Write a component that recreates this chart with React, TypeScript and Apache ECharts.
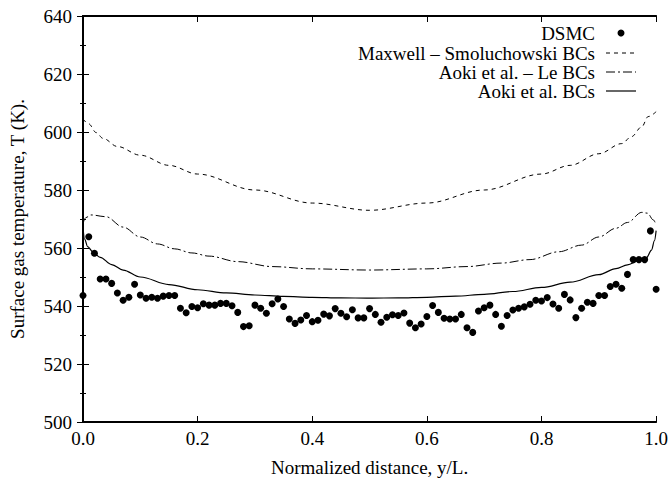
import React, { useEffect, useRef } from 'react';
import * as echarts from 'echarts';

// DSMC results (normalized distance, temperature K)
const dsmcX = [
  0.00, 0.01, 0.02, 0.03, 0.04, 0.05, 0.06, 0.07, 0.08, 0.09,
  0.10, 0.11, 0.12, 0.13, 0.14, 0.15, 0.16, 0.17, 0.18, 0.19,
  0.20, 0.21, 0.22, 0.23, 0.24, 0.25, 0.26, 0.27, 0.28, 0.29,
  0.30, 0.31, 0.32, 0.33, 0.34, 0.35, 0.36, 0.37, 0.38, 0.39,
  0.40, 0.41, 0.42, 0.43, 0.44, 0.45, 0.46, 0.47, 0.48, 0.49,
  0.50, 0.51, 0.52, 0.53, 0.54, 0.55, 0.56, 0.57, 0.58, 0.59,
  0.60, 0.61, 0.62, 0.63, 0.64, 0.65, 0.66, 0.67, 0.68, 0.69,
  0.70, 0.71, 0.72, 0.73, 0.74, 0.75, 0.76, 0.77, 0.78, 0.79,
  0.80, 0.81, 0.82, 0.83, 0.84, 0.85, 0.86, 0.87, 0.88, 0.89,
  0.90, 0.91, 0.92, 0.93, 0.94, 0.95, 0.96, 0.97, 0.98, 0.99,
  1.00,
];
const dsmcT = [
  543.6, 563.9, 558.2, 549.3, 549.3, 547.8, 544.5, 542.0, 543.0, 547.5,
  543.8, 542.7, 543.0, 542.7, 543.4, 543.6, 543.6, 539.2, 537.7, 539.8,
  539.4, 540.8, 540.3, 540.3, 540.9, 540.9, 540.1, 537.8, 532.9, 533.2,
  540.3, 539.2, 537.5, 540.8, 542.4, 539.8, 535.5, 534.0, 535.2, 536.7,
  534.6, 535.1, 537.2, 536.6, 539.1, 537.5, 536.3, 538.7, 535.9, 535.9,
  539.1, 537.1, 534.4, 536.1, 537.0, 536.7, 537.6, 534.1, 532.5, 533.8,
  536.4, 540.2, 537.8, 535.8, 535.5, 535.5, 537.1, 532.5, 530.9, 538.3,
  539.4, 540.3, 537.1, 533.0, 536.7, 538.6, 539.2, 539.7, 540.6, 542.0,
  541.7, 542.9, 540.7, 539.2, 544.0, 542.1, 536.0, 539.2, 541.3, 540.9,
  543.6, 543.6, 546.7, 547.5, 546.1, 550.9, 556.0, 556.0, 556.0, 565.9,
  545.8,
];

// Maxwell – Smoluchowski BCs
const maxwellX = [0, 0.01, 0.023, 0.035, 0.06, 0.1, 0.15, 0.2, 0.3, 0.4, 0.5, 0.6, 0.7, 0.8, 0.85, 0.9, 0.94, 0.957, 0.975, 0.986, 1.0];
const maxwellT = [604.5, 602.8, 599.8, 597.8, 595.0, 592.0, 588.5, 585.5, 580.0, 575.5, 573.0, 575.5, 580.0, 585.5, 588.5, 592.5, 596.0, 598.4, 601.8, 605.3, 607.0];

// Aoki et al. – Le BCs
const aokiLeX = [0, 0.005, 0.014, 0.04, 0.07, 0.1, 0.13, 0.16, 0.19, 0.22, 0.27, 0.33, 0.4, 0.5, 0.6, 0.67, 0.73, 0.78, 0.83, 0.87, 0.9, 0.93, 0.95, 0.975, 0.985, 0.995, 1.0];
const aokiLeT = [568.5, 570.5, 571.4, 570.8, 567.2, 563.8, 561.4, 559.7, 558.3, 557.2, 555.3, 553.6, 552.8, 552.4, 552.8, 553.6, 554.8, 556.0, 558.7, 561.0, 563.8, 566.8, 568.8, 572.3, 572.0, 569.7, 568.0];

// Aoki et al. BCs
const aokiX = [0, 0.003, 0.008, 0.017, 0.03, 0.05, 0.07, 0.1, 0.15, 0.2, 0.25, 0.3, 0.35, 0.4, 0.45, 0.5, 0.55, 0.6, 0.65, 0.7, 0.75, 0.8, 0.85, 0.9, 0.93, 0.95, 0.97, 0.983, 0.992, 0.997, 1.0];
const aokiT = [567.0, 563.0, 560.5, 558.7, 556.8, 554.3, 552.4, 550.0, 547.4, 545.6, 544.5, 543.8, 543.3, 543.0, 542.8, 542.7, 542.8, 543.0, 543.4, 544.0, 545.0, 546.4, 548.2, 550.8, 552.9, 554.2, 555.6, 556.6, 559.3, 562.5, 566.0];

const legendNames = ['DSMC', 'Maxwell \u2013 Smoluchowski BCs', 'Aoki et al. \u2013 Le BCs', 'Aoki et al. BCs'];

const xTitle = 'Normalized distance, y/L.';
const yTitle = 'Surface gas temperature, T (K).';

const FONT = 'Liberation Serif';

const zip = (xs: number[], ys: number[]) => xs.map((x, i) => [x, ys[i]]);

export default function App() {
  const ref = useRef<HTMLDivElement>(null);
  useEffect(() => {
    document.body.style.margin = '0';
    const chart = echarts.init(ref.current!, null, { renderer: 'svg' });
    const axisLine = { show: true, lineStyle: { color: '#000', width: 2 } };
    const baseX = {
      type: 'value', min: 0, max: 1, interval: 0.2,
      axisLine, splitLine: { show: false },
      axisTick: { show: true, inside: true, length: 6, lineStyle: { color: '#000', width: 1 } },
    };
    const baseY = {
      type: 'value', min: 500, max: 640, interval: 20,
      axisLine, splitLine: { show: false },
      axisTick: { show: true, inside: true, length: 6, lineStyle: { color: '#000', width: 1 } },
      minorTick: { show: true, splitNumber: 2, length: 3, lineStyle: { color: '#000', width: 1 } },
      minorSplitLine: { show: false },
    };
    const lineX = 606, lineX2 = 636, textX = 595;
    const rowsY = [33, 53, 72, 91];
    const textStyle = (t: string, y: number) => ({
      type: 'text', x: textX, y,
      style: { text: t, fill: '#000', fontFamily: FONT, fontSize: 19, align: 'right', verticalAlign: 'middle' },
    });
    chart.setOption({
      animation: false,
      backgroundColor: '#fff',
      textStyle: { fontFamily: FONT, color: '#000' },
      grid: { left: 80, right: 13, top: 16, bottom: 63 },
      xAxis: [
        {
          ...baseX, position: 'bottom',
          name: xTitle, nameLocation: 'middle', nameGap: 36,
          nameTextStyle: { fontFamily: FONT, fontSize: 19, color: '#000' },
          axisLabel: { color: '#000', fontFamily: FONT, fontSize: 19, margin: 7, formatter: (v: number) => v.toFixed(1) },
        },
        { ...baseX, position: 'top', axisLabel: { show: false } },
      ],
      yAxis: [
        {
          ...baseY, position: 'left',
          name: yTitle, nameLocation: 'middle', nameGap: 56, nameRotate: 90,
          nameTextStyle: { fontFamily: FONT, fontSize: 19, color: '#000' },
          axisLabel: { color: '#000', fontFamily: FONT, fontSize: 19, margin: 11 },
        },
        { ...baseY, position: 'right', axisLabel: { show: false } },
      ],
      series: [
        {
          name: legendNames[0], type: 'scatter', data: zip(dsmcX, dsmcT),
          symbol: 'circle', symbolSize: 7, itemStyle: { color: '#000', opacity: 1 }, z: 5,
        },
        {
          name: legendNames[1], type: 'line', data: zip(maxwellX, maxwellT),
          showSymbol: false, smooth: 0.35, smoothMonotone: 'x',
          lineStyle: { color: '#000', width: 1, type: [4, 4] },
        },
        {
          name: legendNames[2], type: 'line', data: zip(aokiLeX, aokiLeT),
          showSymbol: false, smooth: 0.35, smoothMonotone: 'x',
          lineStyle: { color: '#000', width: 1, type: [9, 3, 2, 3] },
        },
        {
          name: legendNames[3], type: 'line', data: zip(aokiX, aokiT),
          showSymbol: false, smooth: 0.35, smoothMonotone: 'x',
          lineStyle: { color: '#000', width: 1.2 },
        },
      ],
      graphic: [
        textStyle(legendNames[0], rowsY[0]),
        { type: 'circle', shape: { cx: (lineX + lineX2) / 2, cy: rowsY[0], r: 3.5 }, style: { fill: '#000' } },
        textStyle(legendNames[1], rowsY[1]),
        { type: 'line', shape: { x1: lineX, y1: rowsY[1], x2: lineX2, y2: rowsY[1] }, style: { stroke: '#000', lineWidth: 1, lineDash: [4, 4] } },
        textStyle(legendNames[2], rowsY[2]),
        { type: 'line', shape: { x1: lineX, y1: rowsY[2], x2: lineX2, y2: rowsY[2] }, style: { stroke: '#000', lineWidth: 1, lineDash: [9, 3, 2, 3] } },
        textStyle(legendNames[3], rowsY[3]),
        { type: 'line', shape: { x1: lineX, y1: rowsY[3], x2: lineX2, y2: rowsY[3] }, style: { stroke: '#000', lineWidth: 1.2 } },
      ],
    });
    return () => chart.dispose();
  }, []);
  return <div ref={ref} style={{ width: 671, height: 485 }} />;
}
